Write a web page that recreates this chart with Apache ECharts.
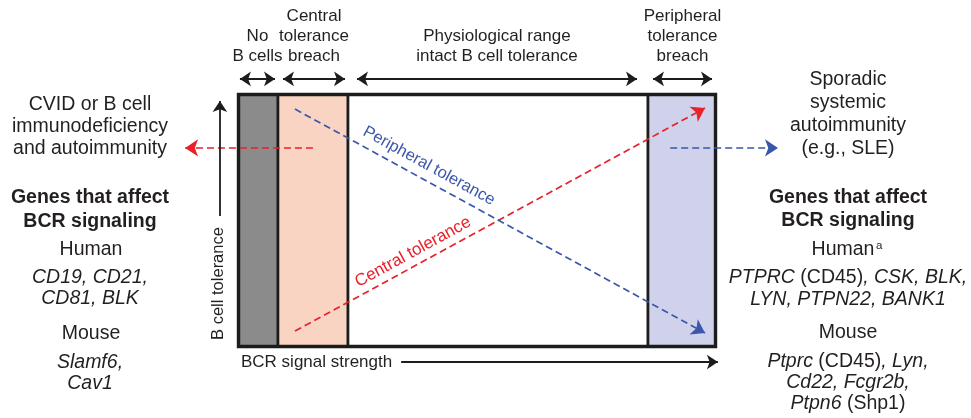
<!DOCTYPE html>
<html><head><meta charset="utf-8">
<script src="https://cdn.jsdelivr.net/npm/echarts/dist/echarts.min.js"></script>
<style>html,body{margin:0;padding:0;background:#fff}#c{width:971px;height:418px}</style>
</head><body><div id="c"></div>
<script>
// ---------- data ----------
const regionNames = ['No B cells', 'Central tolerance breach', 'Physiological range', 'Peripheral tolerance breach'];
const regionBounds = [0, 8.28, 22.96, 85.85, 100];           // BCR signal strength thresholds
const headerLabels = [['No', 'B cells'], ['Central', 'tolerance', 'breach'], ['Physiological range', 'intact B cell tolerance'], ['Peripheral', 'tolerance', 'breach']];
const headerSpans = [[0.3, 7.65], [9.33, 22.33], [24.84, 83.54], [86.9, 99.27]];
const headerArrowY = 106.2;
const centralTolerance = [[11.84, 6.15], [97.8, 94.6]];
const peripheralTolerance = [[11.84, 94.2], [97.8, 5.36]];
const deficiencyArrow = [[15.6, 78.8], [-11.2, 78.8]];
const autoimmunityArrow = [[90.5, 78.8], [113.1, 78.8]];
const toleranceAxis = [[-3.9, 51.8], [-3.9, 97.4]];
const signalAxis = [[34.1, -6.15], [100.5, -6.15]];
const axisNames = ['BCR signal strength', 'B cell tolerance'];
const curveNames = ['Central tolerance', 'Peripheral tolerance'];
const leftOutcome = ['CVID or B cell', 'immunodeficiency', 'and autoimmunity'];
const rightOutcome = ['Sporadic', 'systemic', 'autoimmunity', '(e.g., SLE)'];
const genesTitle = ['Genes that affect', 'BCR signaling'];
const leftHuman = ['{i|CD19, CD21,}', '{i|CD81, BLK}'];
const leftMouse = ['{i|Slamf6,}', '{i|Cav1}'];
const rightHuman = ['{i|PTPRC}{n| (CD45)}{i|, CSK, BLK,}', '{i|LYN, PTPN22, BANK1}'];
const rightMouse = ['{i|Ptprc}{n| (CD45)}{i|, Lyn,}', '{i|Cd22, Fcgr2b,}', '{i|Ptpn6}{n| (Shp1)}'];

// ---------- styles ----------
const X_MIN = -50, X_MAX = 153.56, Y_MIN = -28.37, Y_MAX = 137.5;
const FONT = '"Liberation Sans", Arial, Helvetica, sans-serif';
const INK = '#231f20';
const regionColors = ['#8b8b8b', '#f9d4c2', '#ffffff', '#cfd2ea'];
const RED = '#e8212b', BLUE = '#3b57ab';

const chart = echarts.init(document.getElementById('c'));

function linesSeries(list, color, dashed, symbols, size, width) {
  return {
    type: 'lines', coordinateSystem: 'cartesian2d', clip: false, silent: true, z: 5,
    symbol: symbols, symbolSize: size,
    lineStyle: { color: color, width: width, type: dashed ? [7, 4] : 'solid', opacity: 1, curveness: 0 },
    data: list.map(c => ({ coords: c })), animation: false
  };
}

chart.setOption({
  animation: false,
  grid: { left: 0, right: 0, top: 0, bottom: 0 },
  xAxis: { type: 'value', min: X_MIN, max: X_MAX, show: false },
  yAxis: { type: 'value', min: Y_MIN, max: Y_MAX, show: false },
  series: [
    {
      type: 'custom', coordinateSystem: 'cartesian2d', z: 1, clip: false, silent: true,
      data: regionNames.map((n, i) => [regionBounds[i], regionBounds[i + 1], i]),
      encode: { x: [0, 1] },
      renderItem: function (params, api) {
        const p0 = api.coord([api.value(0), 100]);
        const p1 = api.coord([api.value(1), 0]);
        return { type: 'rect', shape: { x: p0[0], y: p0[1], width: p1[0] - p0[0], height: p1[1] - p0[1] },
          style: { fill: regionColors[api.value(2)], stroke: '#1c1c1c', lineWidth: 2.6 } };
      }
    },
    {
      type: 'custom', coordinateSystem: 'cartesian2d', z: 2, clip: false, silent: true,
      data: [[regionBounds[0], regionBounds[regionBounds.length - 1]]],
      encode: { x: [0, 1] },
      renderItem: function (params, api) {
        const p0 = api.coord([api.value(0), 100]);
        const p1 = api.coord([api.value(1), 0]);
        return { type: 'rect', shape: { x: p0[0], y: p0[1], width: p1[0] - p0[0], height: p1[1] - p0[1] },
          style: { fill: 'none', stroke: '#1c1c1c', lineWidth: 3.4 } };
      }
    },
    linesSeries([centralTolerance, deficiencyArrow], RED, true, ['none', 'arrow'], 13, 1.7),
    linesSeries([peripheralTolerance, autoimmunityArrow], BLUE, true, ['none', 'arrow'], 13, 1.7),
    linesSeries(headerSpans.map(s => [[s[0], headerArrowY], [s[1], headerArrowY]]), '#1c1c1c', false, ['arrow', 'arrow'], 11, 1.8),
    linesSeries([toleranceAxis, signalAxis], '#1c1c1c', false, ['none', 'arrow'], 11, 1.8)
  ]
});

function px(p) { return chart.convertToPixel({ gridIndex: 0 }, p); }

const els = [];
function T(x, y, text, o) {
  o = o || {};
  const size = o.size || 19.5;
  const weight = o.bold ? 'bold' : 'normal';
  const style = {
    text: text, fill: o.color || INK, fontSize: size, fontFamily: FONT, fontWeight: weight,
    fontStyle: o.italic ? 'italic' : 'normal',
    align: o.align || 'center', textAlign: o.align || 'center',
    verticalAlign: 'middle', textVerticalAlign: 'middle',
    rich: {
      i: { fontStyle: 'italic', fontSize: size, fontFamily: FONT, fill: o.color || INK, fontWeight: weight },
      n: { fontStyle: 'normal', fontSize: size, fontFamily: FONT, fill: o.color || INK, fontWeight: weight }
    }
  };
  els.push({ type: 'text', x: x, y: y, rotation: o.rot || 0, silent: true, z: 10, style: style });
}

// header labels, centred on their arrow spans, bottom-aligned
headerLabels.forEach((lines, k) => {
  const cx = px([(headerSpans[k][0] + headerSpans[k][1]) / 2, headerArrowY])[0];
  const n = lines.length;
  lines.forEach((t, j) => T(cx, 56 - (n - 1 - j) * 19.6, t, { size: 17 }));
});

// left block
const LX = 90;
leftOutcome.forEach((t, j) => T(LX, 105 + j * 22, t));
T(LX, 198, genesTitle[0], { bold: true });
T(LX, 222, genesTitle[1], { bold: true });
T(LX + 1, 250, 'Human');
T(LX, 278, leftHuman[0]);
T(LX, 299, leftHuman[1]);
T(LX + 1, 334, 'Mouse');
T(LX, 363, leftMouse[0]);
T(LX, 384, leftMouse[1]);

// right block
const RX = 848;
rightOutcome.forEach((t, j) => T(RX, 80 + j * 23, t));
T(RX, 198, genesTitle[0], { bold: true });
T(RX, 221, genesTitle[1], { bold: true });
T(RX - 5, 250, 'Human');
T(876, 246, 'a', { size: 11.5, align: 'left' });
T(RX, 278, rightHuman[0]);
T(RX, 300, rightHuman[1]);
T(RX, 333, 'Mouse');
T(RX, 362, rightMouse[0]);
T(RX, 383, rightMouse[1]);
T(RX, 404, rightMouse[2]);

// axis names
T(241, 362, axisNames[0], { size: 17, align: 'left' });
T(218, 283.5, axisNames[1], { size: 16.5, rot: Math.PI / 2 });

// curve labels
T(429, 166, curveNames[1], { size: 16.5, color: BLUE, rot: -0.5 });
T(413, 252, curveNames[0], { size: 17, color: RED, rot: 0.5 });

chart.setOption({ graphic: { elements: els } });
</script>
</body></html>
